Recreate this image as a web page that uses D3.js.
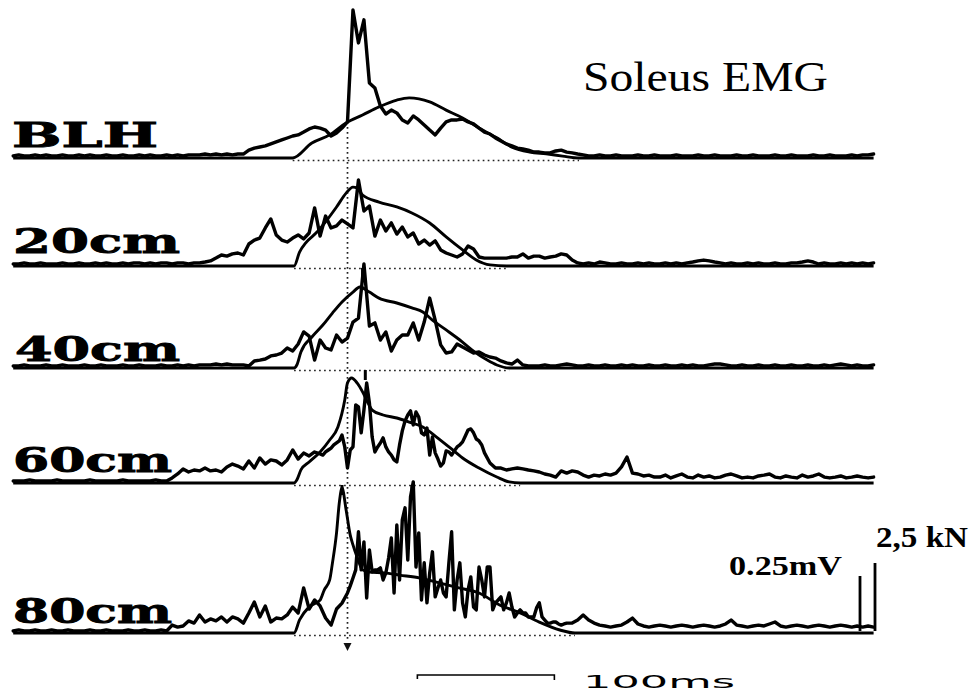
<!DOCTYPE html>
<html>
<head>
<meta charset="utf-8">
<script src="https://cdn.jsdelivr.net/npm/d3@7"></script>
<style>
  html, body { margin: 0; padding: 0; background: #fff; }
  svg { display: block; }
</style>
</head>
<body>
<svg id="chart" width="972" height="694"></svg>
<script>
// ---- Data -------------------------------------------------------------
// Drop heights (row labels)
const rowLabels = ["BLH", "20cm", "40cm", "60cm", "80cm"];

// Rectified soleus EMG (µV), sampled every 4 ms starting at -244 ms (t = 0 at the dotted line)
const emgStart = -244;
const emgStep = 4;

const emgBLH = [
  9,14,9,9,14,9,14,9,9,14, 9,9,14,9,14,9,9,14,9,9, 14,9,9,14,9,14,9,9,14,9, 14,9,14,14,
  14,18,14,18,14,18,14,18,18,
  36,45,50,55,64,73,82,91,100,105,118,132,141,136,127,100,114,136,164,
  673,523,628,
  341,318,236,200,218,205,173,159,191,173,150,127,105,136,164,173,
  173,177,164,155,136,118,109,91,77,64,55,45,41,36,27,27,23,23,32,36,27,23,18,
  14,9,9,14,9,9,14,9,9,9, 14,9,9,14,9,9,9,14,9,9, 9,14,9,9,14,9,9,9,14,9,
  9,14,9,9,9,14,9,9,14,9, 9,9,14,9,9,14,9,9,9,14, 9,14,14,18
];

const emg20 = [
  9,9,14,9,9,14,9,9,9,14, 9,9,14,9,9,14,9,14,9,9, 14,9,14,14,9,14,9,14,14,9, 14,14,9,14,
  14,18,23,36,50,45,55,59,50,100,118,127,173,214,141,118,109,127,141,123,150,264,136,227,173,182,209,191,173,
  391,250,273,136,209,159,196,145,177,132, 150,100,118,95,114,73,59,50,41,55,
  91,77,41,36,36,36,36,36,41,41, 55,36,45,45,36,41,45,55,50,27, 14,
  9,14,9,18,14,9,9,14,9,9, 14,9,14,9,9,14,9,14,9,14, 18,23,27,23,18,14,9,14,9,9,
  14,9,14,9,9,14,9,9,14,14, 18,23,18,9,14,9,9,14,9,14, 9,14,9,14
];

const emg40 = [
  9,9,14,9,9,9,14,9,9,14, 9,9,9,14,9,9,14,9,9,9, 14,9,9,14,9,9,9,14,9,9, 14,9,14,9,14,14,14,18,14,18,
  14,14,14,9,32,36,41,55,59,68,
  91,77,109,164,145,36,127,91,82,150,
  118,136,209,227,473,191,205,127,164,77,
  127,150,150,205,127,209,318,218,105,68,
  73,109,95,82,68,73,59,50,45,32,
  23,18,36,14,9,
  9,9,14,9,9,14,18,14,9,9, 14,9,9,14,9,9,14,9,14,9, 9,14,9,9,14,9,9,14,9,14,
  9,9,14,18,18,14,9,9,14,9, 9,14,9,9,14,9,9,14,9,9, 14,9,9,14,9,14,18,14,9,14, 9,9,14
];

const emg60 = [
  9,9,9,14,9,9,9,9,14,9, 9,9,9,9,14,9,9,9,9,9, 14,9,9,9,9,9,14,9,9,
  23,41,64,50,59,55,68,55,59,50,
  73,86,77,64,100,68,114,86,105,100,
  82,105,150,109,136,123,141,127,150,164,
  182,205,68,164,355,250,455,141,173,164,
  123,95,250,323,264,300,227,118,159,68,
  145,127,164,186,241,236,191,136,91,68,
  68,59,64,68,64,59,55,50,41,36,
  27,55,45,55,50,36,27,36,32,41,
  36,45,73,118,45,41,32,36,27,
  27,36,23,32,41,27,23,36,27,32, 23,27,36,41,32,23,27,23,32,36,
  41,27,23,32,27,23,36,27,32,41, 27,23,27,32,23,27,32,27,23,27
];

const emg80 = [
  9,14,9,9,14,9,9,14,9,9, 14,9,9,9,14,9,9,14,9,9, 9,14,9,9,14,9,9,14,9,
  36,27,32,55,45,82,50,64,55,73,
  50,73,64,45,91,141,73,123,50,68,
  64,82,118,91,205,109,150,123,68,36,
  109,136,182,264,460,273,378,282,296,264,
  364,491,514,332,687,455,318,341,164,241,
  164,432,182,296,159,250,273,114,300,127,
  164,100,173,73,91,73,73,136,64,45,
  50,36,41,45,59,82,59,45,36,32,
  27,32,36,50,68,41,32,27,32,
  36,32,27,32,36,32,27,32,36,32, 27,32,41,59,36,32,27,32,36,32,
  41,50,32,27,32,36,32,27,32,36, 32,27,32,36,32,27,32,27,32,27
];

// Burst segments at 2 ms resolution (µV); they replace the 4 ms samples in their span
const burst60Start = -20;
const burst60 = [
  132,127,141,150,159,173,182,191,218,164,
  68,150,164,355,346,228,332,455,364,209,
  141,164,182,205,164,141,127,105,96,173,
  237,282,309,328,264,323,300,228,218,250,
  127,209,137,109,77,91,146,141,127,146,
  164,173,187,214,241,246,228,200,191,173,
  137
];
const burst80Start = 0;
const burst80 = [
  182,214,250,287,460,287,414,159,378,278,
  287,287,296,241,273,341,432,182,491,241,
  514,569,332,619,687,300,455,150,319,137,
  273,369,164,205,241,182,164,319,460,105,
  241,319,137,73,196,255,118,105,300,241,
  164,300,300,105,137,150,164,105,137,182,
  118,73,91,105,91,91,73,73,73,114,
  137,73,59,45,45,50,50,41,36,41,
  45
];
const burstStep = 2;

// Ground reaction force (kN) against time (ms)
const forceTimeBLH = [-244,-40,-26,-13,-1,11,23,36,45,60,72,84,96,109,120,133,145,157,169,384];
const forceBLH     = [0,0,0.55,0.85,1.29,1.58,1.88,2.13,2.21,2.06,1.76,1.47,1.10,0.74,0.40,0.22,0.15,0.07,0,0];

const forceTime20 = [-244,-39,-35,-30,-23,-15,-8,-1,4,7,11,23,36,47,60,72,84,94,104,116,384];
const force20     = [0,0,0.51,0.88,1.21,1.69,2.17,2.68,2.90,2.87,2.61,2.35,2.17,1.95,1.58,1.07,0.59,0.22,0.04,0,0];

const forceTime40 = [-244,-39,-37,-34,-26,-18,-11,-4,4,9,16,23,36,47,55,62,72,82,91,102,109,118,384];
const force40     = [0,0,0.11,0.59,1.14,1.58,2.02,2.43,2.79,2.98,2.79,2.57,2.39,2.21,2.06,1.76,1.40,1.03,0.66,0.29,0.11,0,0];

const forceTime60 = [-244,-39,-37,-34,-28,-20,-13,-7,-2,0,3,7,11,15,18,26,36,45,55,65,75,84,96,109,118,126,384];
const force60     = [0,0,0.11,0.48,0.77,1.14,1.58,2.06,3.05,3.68,3.86,3.68,3.35,2.94,2.68,2.50,2.39,2.24,2.06,1.69,1.29,0.92,0.55,0.22,0.04,0,0];

const forceTime80 = [-244,-39,-35,-28,-20,-17,-13,-11,-8,-6,-4,-1,2,4,7,11,16,27,38,53,67,82,96,111,126,140,155,166,384];
const force80     = [0,0,0.48,0.96,1.21,1.58,1.95,2.57,3.68,4.78,5.33,4.52,3.60,3.24,2.79,2.32,2.24,2.21,2.13,2.02,1.84,1.65,1.47,1.03,0.74,0.40,0.11,0,0];

// Event markers (ms) drawn as short ticks under each trace
const markerTimes = [[], [11], [13], [-4, 47], []];

// Calibration bars
const emgBarValue = 250;     // µV  (0.25 mV)
const forceBarValue = 2.5;   // kN
const timeBarStart = 51;     // ms
const timeBarLength = 100;   // ms

// ---- Layout -----------------------------------------------------------
const rowBase = [158, 266, 368, 483, 633];
const labelGap = [11, 13, 7, 11, 10];
const labelX = [12, 13, 15, 13, 13];
const labelW = [146, 167, 165, 159, 159];

const x = d3.scaleLinear().domain([-244, 384]).range([13.2, 873.6]);
const emgH = d3.scaleLinear().domain([0, 250]).range([0, 55]);
const forceH = d3.scaleLinear().domain([0, 2.5]).range([0, 68]);

const svg = d3.select("#chart");
svg.append("rect").attr("width", 972).attr("height", 694).attr("fill", "#fff");

// merge a 4 ms series with an optional 2 ms burst segment
function emgPoints(coarse, burstStart, burst) {
  const pts = coarse.map((v, i) => [emgStart + i * emgStep, v]);
  if (!burst) return pts;
  const end = burstStart + (burst.length - 1) * burstStep;
  const fine = burst.map((v, j) => [burstStart + j * burstStep, v]);
  return pts.filter(p => p[0] < burstStart).concat(fine, pts.filter(p => p[0] > end));
}

const rows = [
  { emg: emgPoints(emgBLH), ft: forceTimeBLH, f: forceBLH },
  { emg: emgPoints(emg20),  ft: forceTime20,  f: force20 },
  { emg: emgPoints(emg40),  ft: forceTime40,  f: force40 },
  { emg: emgPoints(emg60, burst60Start, burst60), ft: forceTime60, f: force60 },
  { emg: emgPoints(emg80, burst80Start, burst80), ft: forceTime80, f: force80 }
];

const emgLine = d3.line()
  .x(d => x(d[0]))
  .y(d => -emgH(d[1]));

const forceLine = d3.line()
  .curve(d3.curveMonotoneX)
  .x(d => x(d[0]))
  .y(d => -forceH(d[1]));

// vertical reference line at t = 0
svg.append("line")
  .attr("x1", x(0)).attr("x2", x(0))
  .attr("y1", 122).attr("y2", 641)
  .attr("stroke", "#222").attr("stroke-width", 1.7)
  .attr("stroke-dasharray", "1.7,3.3");
svg.append("path")
  .attr("d", `M${x(0) - 4},643 L${x(0) + 4},643 L${x(0)},651 Z`)
  .attr("fill", "#111");

rows.forEach((r, k) => {
  const g = svg.append("g").attr("transform", `translate(0,${rowBase[k]})`);

  // dotted baseline under the force hump
  const first = r.f.findIndex(v => v > 0);
  let last = r.f.length - 1;
  while (last > 0 && r.f[last] <= 0) last--;
  g.append("line")
    .attr("x1", x(r.ft[first - 1])).attr("x2", x(r.ft[last + 1]))
    .attr("y1", 2.5).attr("y2", 2.5)
    .attr("stroke", "#222").attr("stroke-width", 1.7)
    .attr("stroke-dasharray", "1.7,3.3");

  // event ticks
  markerTimes[k].forEach(t => {
    g.append("line")
      .attr("x1", x(t)).attr("x2", x(t))
      .attr("y1", 2).attr("y2", 12)
      .attr("stroke", "#000").attr("stroke-width", 3);
  });

  // force trace
  g.append("path")
    .attr("d", forceLine(r.ft.map((t, i) => [t, r.f[i]])))
    .attr("fill", "none").attr("stroke", "#000")
    .attr("stroke-width", 2.9).attr("stroke-linejoin", "round");

  // EMG trace
  g.append("path")
    .attr("d", emgLine(r.emg))
    .attr("fill", "none").attr("stroke", "#000")
    .attr("stroke-width", 3.4).attr("stroke-linejoin", "round")
    .attr("stroke-linecap", "round");

  // row label
  svg.append("text")
    .attr("x", labelX[k]).attr("y", rowBase[k] - labelGap[k])
    .attr("textLength", labelW[k]).attr("lengthAdjust", "spacingAndGlyphs")
    .attr("font-family", "'DejaVu Serif', serif").attr("font-weight", "bold")
    .attr("font-size", 34).attr("fill", "#000")
    .attr("stroke", "#000").attr("stroke-width", 0.9)
    .text(rowLabels[k]);
});

// title
svg.append("text")
  .attr("x", 583).attr("y", 91)
  .attr("textLength", 245).attr("lengthAdjust", "spacingAndGlyphs")
  .attr("font-family", "'Liberation Serif', 'Times New Roman', serif")
  .attr("font-size", 43).attr("fill", "#000")
  .text("Soleus EMG");

// amplitude calibration bars
const yb = rowBase[4];
svg.append("line")
  .attr("x1", 860).attr("x2", 860)
  .attr("y1", yb - 2).attr("y2", yb - 2 - emgH(emgBarValue))
  .attr("stroke", "#000").attr("stroke-width", 2.8);
svg.append("line")
  .attr("x1", 875).attr("x2", 875)
  .attr("y1", yb - 2).attr("y2", yb - 2 - forceH(forceBarValue))
  .attr("stroke", "#000").attr("stroke-width", 2.8);

svg.append("text")
  .attr("x", 729).attr("y", 575)
  .attr("textLength", 113).attr("lengthAdjust", "spacingAndGlyphs")
  .attr("font-family", "'Liberation Serif', serif").attr("font-weight", "bold")
  .attr("font-size", 28).attr("fill", "#000")
  .text(`${emgBarValue / 1000}mV`);
svg.append("text")
  .attr("x", 876).attr("y", 547)
  .attr("textLength", 92).attr("lengthAdjust", "spacingAndGlyphs")
  .attr("font-family", "'Liberation Serif', serif").attr("font-weight", "bold")
  .attr("font-size", 30).attr("fill", "#000")
  .text(`${String(forceBarValue).replace(".", ",")} kN`);

// time calibration bar
const tx0 = x(timeBarStart), tx1 = x(timeBarStart + timeBarLength);
svg.append("path")
  .attr("d", `M${tx0},679 L${tx0},675 L${tx1},675 L${tx1},680`)
  .attr("fill", "none").attr("stroke", "#000").attr("stroke-width", 1.6);
svg.append("text")
  .attr("x", 583).attr("y", 688)
  .attr("textLength", 152).attr("lengthAdjust", "spacingAndGlyphs")
  .attr("font-family", "'DejaVu Sans', sans-serif")
  .attr("font-size", 18).attr("fill", "#000")
  .text(`${timeBarLength}ms`);
</script>
</body>
</html>
